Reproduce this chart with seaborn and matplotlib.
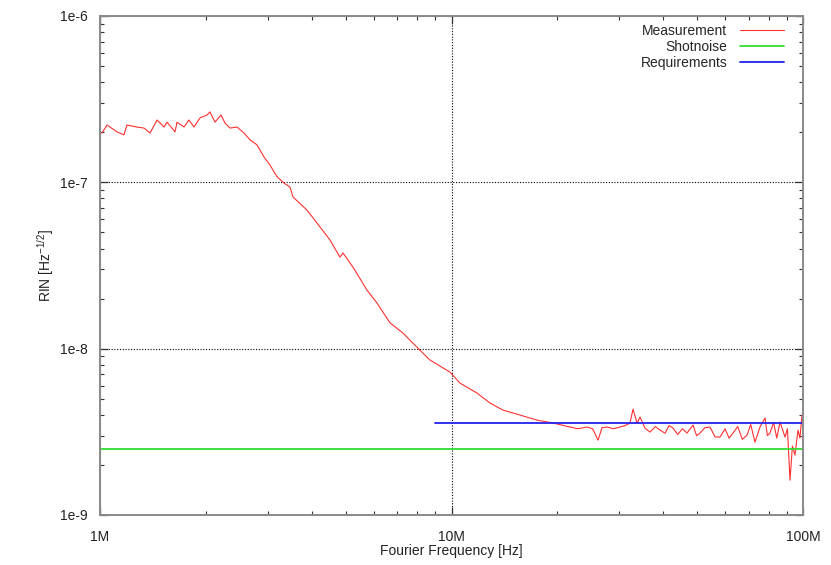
import matplotlib
matplotlib.use("Agg")
import matplotlib.pyplot as plt
import matplotlib.ticker as mticker
import numpy as np
import pandas as pd
import seaborn as sns

# Measurement: Fourier frequency [MHz] and RIN [1e-9 Hz^-1/2]
freq_mhz = [1.013, 1.047, 1.118, 1.170, 1.193, 1.274, 1.334, 1.388, 1.453, 1.521,
            1.551, 1.635, 1.656, 1.734, 1.791, 1.851, 1.925, 2.016, 2.055, 2.124,
            2.210, 2.268, 2.343, 2.454, 2.569, 2.672, 2.797, 2.928, 3.045, 3.189,
            3.338, 3.471, 3.541, 3.880, 4.144, 4.512, 4.817, 4.913, 5.245, 5.748,
            6.138, 6.683, 7.278, 7.979, 8.685, 9.90, 10.57, 11.82, 12.87, 14.02,
            15.66, 17.51, 19.45, 21.74, 22.9, 24.29, 25.2, 26.12, 26.8, 27.70,
            28.9, 30.17, 31.2, 32.20, 32.84, 33.71, 34.39, 35.52, 36.7, 38.0,
            39.20, 40.5, 41.6, 42.68, 44.0, 45.4, 46.77, 48.66, 49.8, 50.93,
            52.6, 54.37, 56.2, 58.06, 60.0, 61.6, 63.23, 65.2, 67.2, 69.29,
            71.0, 73.01, 75.44, 77.95, 79.2, 80.54, 82.5, 84.2, 86.02, 88.88,
            90.3, 91.84, 93.3, 94.89, 96.78, 98.0, 99.36]
rin_e9 = [198, 221, 201, 193, 221, 215, 212, 198, 237, 215,
          230, 201, 230, 215, 237, 215, 244, 254, 265, 230,
          254, 227, 212, 215, 198, 180, 168, 142, 127, 108,
          99, 93.7, 81.6, 68.1, 56.9, 45.0, 35.5, 37.6, 30.9, 22.5,
          18.8, 14.3, 12.4, 10.2, 8.54, 7.23, 6.21, 5.41, 4.71, 4.27,
          3.99, 3.72, 3.57, 3.38, 3.30, 3.38, 3.30, 2.82, 3.35, 3.38,
          3.30, 3.38, 3.45, 3.57, 4.33, 3.57, 3.88, 3.33, 3.15, 3.40,
          3.24, 3.10, 3.45, 3.33, 3.05, 3.30, 3.11, 3.47, 3.00, 3.11,
          3.35, 3.38, 2.95, 2.94, 3.30, 2.90, 3.11, 3.40, 2.85, 3.02,
          3.50, 2.74, 3.38, 3.83, 3.00, 3.11, 3.60, 2.90, 3.62, 2.94,
          3.30, 1.62, 2.60, 2.29, 3.24, 2.90, 3.99]

shot_freq = [1e6, 1e8]
shot_rin = [2.5e-9, 2.5e-9]
req_freq = [9e6, 1e8]
req_rin = [3.56e-9, 3.56e-9]

x_ticks = [1e6, 1e7, 1e8]
x_labels = ["1M", "10M", "100M"]
y_ticks = [1e-9, 1e-8, 1e-7, 1e-6]
y_labels = ["1e-9", "1e-8", "1e-7", "1e-6"]

sns.set_style("ticks")
plt.rcParams["font.family"] = ["Liberation Sans", "DejaVu Sans"]
plt.rcParams["mathtext.fontset"] = "custom"
plt.rcParams["mathtext.rm"] = "Liberation Sans"
plt.rcParams["mathtext.it"] = "Liberation Sans"

meas = pd.DataFrame({"f": np.array(freq_mhz) * 1e6, "rin": np.array(rin_e9) * 1e-9})
shot = pd.DataFrame({"f": shot_freq, "rin": shot_rin})
req = pd.DataFrame({"f": req_freq, "rin": req_rin})

fig = plt.figure(figsize=(8.31, 5.65), dpi=100)
ax = fig.add_axes([100 / 831, 1 - 515 / 565, 703 / 831, 499 / 565])

sns.lineplot(data=meas, x="f", y="rin", ax=ax, color="#ff3030", lw=0.8,
             sort=False, label="Measurement")
sns.lineplot(data=shot, x="f", y="rin", ax=ax, color="#33dd33", lw=1.3,
             sort=False, label="Shotnoise")
sns.lineplot(data=req, x="f", y="rin", ax=ax, color="#2222ee", lw=1.3,
             sort=False, label="Requirements")

ax.set_xscale("log")
ax.set_yscale("log")
ax.set_xlim(1e6, 1e8)
ax.set_ylim(1e-9, 1e-6)

ax.xaxis.set_major_locator(mticker.FixedLocator(x_ticks))
ax.xaxis.set_major_formatter(mticker.FixedFormatter(x_labels))
ax.yaxis.set_major_locator(mticker.FixedLocator(y_ticks))
ax.yaxis.set_major_formatter(mticker.FixedFormatter(y_labels))
ax.xaxis.set_minor_locator(mticker.LogLocator(base=10, subs=np.arange(2, 10)))
ax.yaxis.set_minor_locator(mticker.LogLocator(base=10, subs=np.arange(2, 10)))
ax.xaxis.set_minor_formatter(mticker.NullFormatter())
ax.yaxis.set_minor_formatter(mticker.NullFormatter())

ax.tick_params(which="both", direction="in", top=True, right=True,
               colors="#333333", labelcolor="#222222", labelsize=10)
ax.tick_params(which="major", length=6, width=0.9)
ax.tick_params(which="minor", length=3, width=0.8)
ax.tick_params(axis="x", pad=11)
ax.tick_params(axis="y", pad=9)

for s in ax.spines.values():
    s.set_color("#8a8a8a")
    s.set_linewidth(1.4)

ax.grid(True, which="major", color="black", linestyle=(0, (1, 1.5)), linewidth=0.8)

ax.set_xlabel("Fourier Frequency [Hz]", fontsize=10, color="#222222", labelpad=0)
ax.set_ylabel(r"RIN [Hz$^{-1/2}$]", fontsize=10, color="#222222", labelpad=3)

leg = ax.legend(loc="upper right", bbox_to_anchor=(0.985, 1.0), frameon=False,
                markerfirst=False, fontsize=10, handlelength=3.2, handletextpad=0.9,
                labelspacing=0.12, borderaxespad=0.2)

fig.savefig("out.png", dpi=100)
